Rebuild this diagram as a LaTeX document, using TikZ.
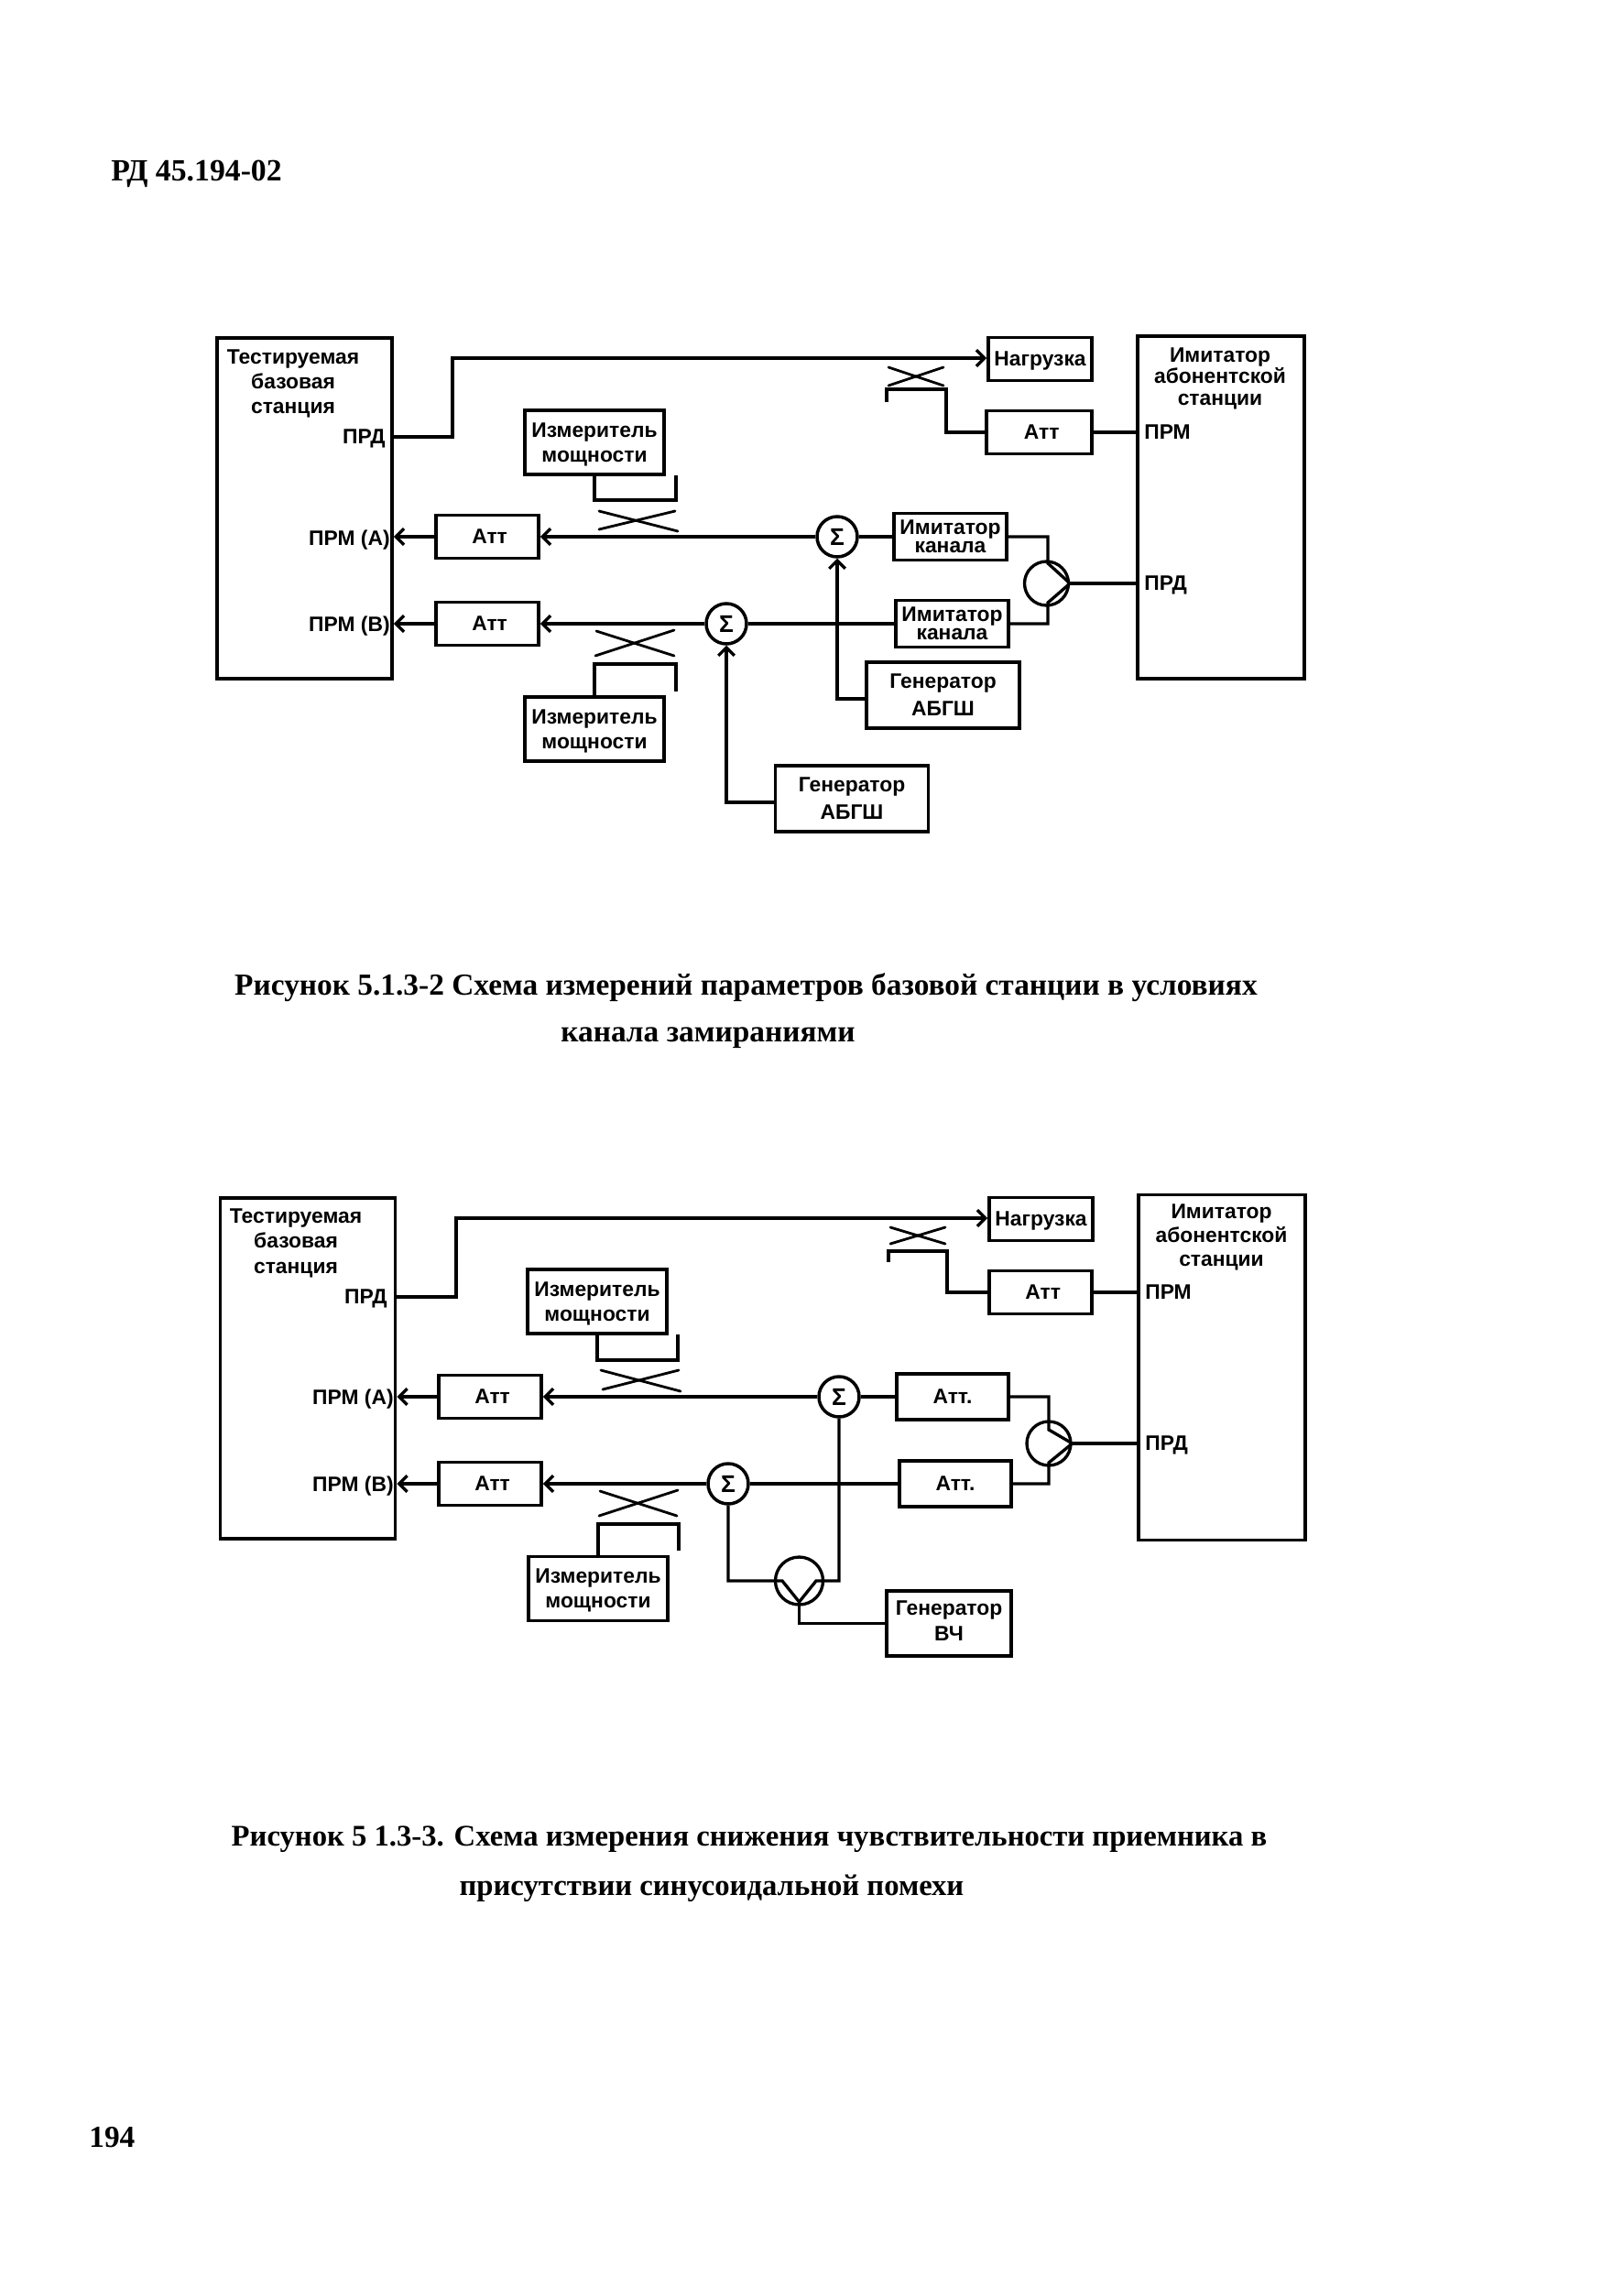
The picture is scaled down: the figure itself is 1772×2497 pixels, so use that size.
\documentclass[tikz,border=0pt]{standalone}
\usepackage{fontspec}
\setmainfont{Liberation Serif}
\newfontfamily\labelfont{Liberation Sans}[BoldFont={Liberation Sans Bold}]
\usetikzlibrary{arrows.meta}

\begin{document}
\begin{tikzpicture}[x=0.02cm,y=-0.02cm]
        \tikzset{edge/.style = {-{Straight Barb[length=5pt,width=10pt]},line width=1.9pt}}
        \tikzset{line/.style = {line width=1.9pt}}
        \tikzset{thinline/.style = {line width=1.6pt,line cap=round}}
        \tikzset{box/.style = {draw,line width=2.2pt,inner sep=0pt,align=center,font=\labelfont\bfseries\fontsize{13}{15}\selectfont}}
        \tikzset{tallbox/.style = {box,minimum width=3.82cm,minimum height=7.44cm}}
        \tikzset{simbox/.style = {box,minimum width=3.64cm,minimum height=7.48cm}}
        \tikzset{attbox/.style = {box,minimum width=2.24cm,minimum height=0.94cm,text depth=0pt}}
        \tikzset{attshift/.style = {execute at begin node={\hspace*{3pt}}}}
        \tikzset{meterbox/.style = {box,minimum width=3.04cm,minimum height=1.40cm,text depth=0pt,font=\labelfont\bfseries\fontsize{13}{15.4}\selectfont}}
        \tikzset{chanbox/.style = {box,minimum width=2.46cm,minimum height=1.02cm,font=\labelfont\bfseries\fontsize{13}{11.5}\selectfont}}
        \tikzset{genbox/.style = {box,minimum width=3.34cm,minimum height=1.44cm,font=\labelfont\bfseries\fontsize{13}{17}\selectfont}}
        \tikzset{genstrut/.style = {execute at begin node={\rule{0pt}{12.5pt}}}}
        \tikzset{sumnode/.style = {draw,circle,line width=2pt,inner sep=0pt,minimum size=0.88cm,font=\labelfont\bfseries\fontsize{15}{15}\selectfont}}
        \tikzset{splitnode/.style = {draw,circle,line width=1.9pt,inner sep=0pt,minimum size=0.96cm}}
        \tikzset{portlabel/.style = {inner sep=0pt,text depth=0pt,font=\labelfont\bfseries\fontsize{13}{15}\selectfont}}
        \tikzset{titlelabel/.style = {inner sep=0pt,align=center,font=\labelfont\bfseries\fontsize{13}{15.6}\selectfont}}
        \tikzset{caption/.style = {inner sep=0pt,font=\bfseries\fontsize{19}{19}\selectfont}}
        \tikzset{captionb/.style = {inner sep=0pt,font=\bfseries\fontsize{18.6}{19}\selectfont}}

        \useasboundingbox (0,0) rectangle (1772,2497);

        % page texts
        \node[caption,anchor=west,font=\bfseries\fontsize{19.2}{19}\selectfont] (header) at (121,190) {РД 45.194-02};
        \node[caption,anchor=west] (pagenum) at (97,2334) {194};
        \node[caption] (cap1a) at (814.5,1078) {Рисунок 5.1.3-2  Схема измерений параметров базовой станции в условиях};
        \node[caption] (cap1b) at (773,1133) {канала  замираниями};
        \node[captionb] (cap2a) at (818,2008) {Рисунок 5 1.3-3. Схема измерения снижения чувствительности приемника в};
        \node[captionb] (cap2b) at (777,2062) {присутствии синусоидальной помехи};

        % first scheme: big boxes
        \node[tallbox] (bts1) at (332.5,555) {};
        \node[titlelabel] (bts1t) at (320,419) {Тестируемая\\базовая\\станция};
        \node[portlabel,anchor=east] (prd1) at (421,477) {ПРД};
        \node[portlabel,anchor=east] (rxa1) at (426,587) {ПРМ (А)};
        \node[portlabel,anchor=east] (rxb1) at (426,681) {ПРМ (В)};
        \node[simbox] (sim1) at (1333,554) {};
        \node[titlelabel,font=\labelfont\bfseries\fontsize{13}{13.4}\selectfont] (sim1t) at (1332,413) {Имитатор\\абонентской\\станции};
        \node[portlabel,anchor=west] (simrx1) at (1249,472) {ПРМ};
        \node[portlabel,anchor=west] (simtx1) at (1249,637) {ПРД};

        % first scheme: blocks
        \node[attbox,minimum width=2.26cm] (load1) at (1135.5,392) {Нагрузка};
        \node[attbox,attshift,minimum width=2.30cm] (attr1) at (1134.5,472) {Атт};
        \node[attbox,attshift] (atta1) at (532,586) {Атт};
        \node[attbox,attshift] (attb1) at (532,681) {Атт};
        \node[meterbox] (meta1) at (649,483) {Измеритель\\мощности};
        \node[meterbox] (metb1) at (649,796) {Измеритель\\мощности};
        \node[chanbox] (chana1) at (1037.5,586) {Имитатор\\канала};
        \node[chanbox] (chanb1) at (1039.5,681) {Имитатор\\канала};
        \node[genbox,genstrut] (gena1) at (1029.5,759) {Генератор\\АБГШ};
        \node[genbox,genstrut] (genb1) at (930,872) {Генератор\\АБГШ};
        \node[sumnode] (suma1) at (914,586) {Σ};
        \node[sumnode] (sumb1) at (793,681) {Σ};
        \node[splitnode] (split1) at (1142.5,637) {};

        % first scheme: transmit path
        \coordinate (up1) at (494,391);
        \draw[edge] (prd1 -| bts1.east) -| (up1) -- (up1 -| load1.west);
        \coordinate (xa1) at (970,401);
        \coordinate (xb1) at (1030,421);
        \coordinate (xc1) at (970,421);
        \coordinate (xd1) at (1030,401);
        \draw[thinline] (xa1) -- (xb1);
        \draw[thinline] (xc1) -- (xd1);
        \coordinate (hook1) at (968,439);
        \coordinate (hookb1) at (1033,425);
        \draw[line] (hook1) |- (hookb1) |- (attr1.west);
        \draw[line] (attr1.east) -- (attr1.east -| sim1.west);

        % first scheme: receive paths
        \draw[edge] (atta1.west) -- (atta1.west -| bts1.east);
        \draw[edge] (attb1.west) -- (attb1.west -| bts1.east);
        \draw[edge] (suma1.west) -- (atta1.east);
        \draw[edge] (sumb1.west) -- (attb1.east);
        \draw[line] (chana1.west) -- (suma1.east);
        \draw[line] (chanb1.west) -- (sumb1.east);
        \draw[edge] ([yshift=-0.08cm]gena1.west) -| (suma1.south);
        \draw[edge] ([yshift=-0.08cm]genb1.west) -| (sumb1.south);

        % first scheme: splitter
        \coordinate (spa1) at (1144,615);
        \coordinate (spb1) at (1144,658);
        \draw[line] (chana1.east) -| (spa1) -- (split1.east);
        \draw[line] (chanb1.east) -| (spb1) -- (split1.east);
        \draw[line] (split1.east) -- (split1.east -| sim1.west);

        % first scheme: couplers
        \coordinate (xe1) at (654,558);
        \coordinate (xf1) at (740,580);
        \coordinate (xg1) at (654,578);
        \coordinate (xh1) at (737,558);
        \draw[thinline] (xe1) -- (xf1);
        \draw[thinline] (xg1) -- (xh1);
        \coordinate (brk1) at (738,546);
        \coordinate (brkend1) at (738,519);
        \draw[line] (meta1.south) |- (brk1) -- (brkend1);
        \coordinate (xi1) at (651,689);
        \coordinate (xj1) at (736,716);
        \coordinate (xk1) at (650,716);
        \coordinate (xl1) at (736,688);
        \draw[thinline] (xi1) -- (xj1);
        \draw[thinline] (xk1) -- (xl1);
        \coordinate (brk2) at (738,725);
        \coordinate (brkend2) at (738,755);
        \draw[line] (metb1.north) |- (brk2) -- (brkend2);

        % second scheme: big boxes
        \node[tallbox] (bts2) at (336,1494) {};
        \node[titlelabel] (bts2t) at (323,1357) {Тестируемая\\базовая\\станция};
        \node[portlabel,anchor=east] (prd2) at (423,1416) {ПРД};
        \node[portlabel,anchor=east] (rxa2) at (430,1525) {ПРМ (А)};
        \node[portlabel,anchor=east] (rxb2) at (430,1620) {ПРМ (В)};
        \node[simbox,minimum height=7.54cm] (sim2) at (1334,1493) {};
        \node[titlelabel,font=\labelfont\bfseries\fontsize{13}{14.8}\selectfont] (sim2t) at (1333.5,1351) {Имитатор\\абонентской\\станции};
        \node[portlabel,anchor=west] (simrx2) at (1250,1411) {ПРМ};
        \node[portlabel,anchor=west] (simtx2) at (1250,1576) {ПРД};

        % second scheme: blocks
        \node[attbox,minimum width=2.26cm] (load2) at (1136.5,1331) {Нагрузка};
        \node[attbox,attshift] (attr2) at (1136,1411) {Атт};
        \node[attbox,attshift] (atta2) at (535,1525) {Атт};
        \node[attbox,attshift] (attb2) at (535,1620) {Атт};
        \node[meterbox] (meta2) at (652,1421) {Измеритель\\мощности};
        \node[meterbox] (metb2) at (653,1734.5) {Измеритель\\мощности};
        \node[attbox,minimum width=2.44cm,minimum height=1.0cm] (chana2) at (1040,1525) {Атт.};
        \node[attbox,minimum width=2.44cm,minimum height=1.0cm] (chanb2) at (1043,1620) {Атт.};
        \node[genbox,minimum width=2.72cm,minimum height=1.42cm,text depth=3pt,font=\labelfont\bfseries\fontsize{13}{16.2}\selectfont] (gena2) at (1036,1772.5) {Генератор\\ВЧ};
        \node[sumnode] (suma2) at (916,1525) {Σ};
        \node[sumnode] (sumb2) at (795,1620) {Σ};
        \node[splitnode] (split2) at (1145,1576) {};
        \node[splitnode,minimum size=1.04cm] (split3) at (872.5,1726) {};

        % second scheme: transmit path
        \coordinate (up2) at (498,1330);
        \draw[edge] (prd2 -| bts2.east) -| (up2) -- (up2 -| load2.west);
        \coordinate (xa2) at (972,1340);
        \coordinate (xb2) at (1032,1358);
        \coordinate (xc2) at (972,1358);
        \coordinate (xd2) at (1032,1340);
        \draw[thinline] (xa2) -- (xb2);
        \draw[thinline] (xc2) -- (xd2);
        \coordinate (hook2) at (970,1378);
        \coordinate (hookb2) at (1034,1366);
        \draw[line] (hook2) |- (hookb2) |- (attr2.west);
        \draw[line] (attr2.east) -- (attr2.east -| sim2.west);

        % second scheme: receive paths
        \draw[edge] (atta2.west) -- (atta2.west -| bts2.east);
        \draw[edge] (attb2.west) -- (attb2.west -| bts2.east);
        \draw[edge] (suma2.west) -- (atta2.east);
        \draw[edge] (sumb2.west) -- (attb2.east);
        \draw[line] (chana2.west) -- (suma2.east);
        \draw[line] (chanb2.west) -- (sumb2.east);

        % second scheme: splitters
        \coordinate (spa2) at (1145,1561);
        \coordinate (spb2) at (1145,1597);
        \draw[line] (chana2.east) -| (spa2) -- (split2.east);
        \draw[line] (chanb2.east) -| (spb2) -- (split2.east);
        \draw[line] (split2.east) -- (split2.east -| sim2.west);
        \coordinate (spc2) at (854,1726);
        \coordinate (spd2) at (891,1726);
        \coordinate (spe2) at (872.5,1749);
        \draw[line] (sumb2.south) |- (spc2) -- (spe2);
        \draw[line] (suma2.south) |- (spd2) -- (spe2);
        \draw[line] (spe2) |- (gena2.west);

        % second scheme: couplers
        \coordinate (xe2) at (656,1496);
        \coordinate (xf2) at (743,1519);
        \coordinate (xg2) at (658,1517);
        \coordinate (xh2) at (741,1496);
        \draw[thinline] (xe2) -- (xf2);
        \draw[thinline] (xg2) -- (xh2);
        \coordinate (brk3) at (740,1485);
        \coordinate (brkend3) at (740,1457);
        \draw[line] (meta2.south) |- (brk3) -- (brkend3);
        \coordinate (xi2) at (655,1628);
        \coordinate (xj2) at (739,1655);
        \coordinate (xk2) at (654,1655);
        \coordinate (xl2) at (740,1627);
        \draw[thinline] (xi2) -- (xj2);
        \draw[thinline] (xk2) -- (xl2);
        \coordinate (brk4) at (741,1664);
        \coordinate (brkend4) at (741,1693);
        \draw[line] (metb2.north) |- (brk4) -- (brkend4);

\end{tikzpicture}
\end{document}
